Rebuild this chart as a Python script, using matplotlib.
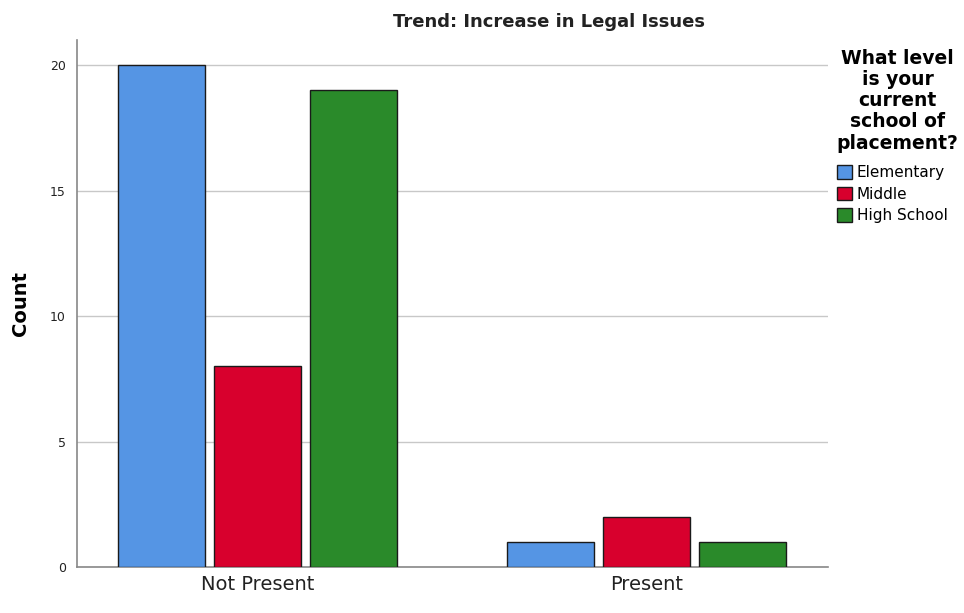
import matplotlib
matplotlib.use("Agg")
import matplotlib.pyplot as plt
from matplotlib.patches import Patch
import numpy as np

categories = ["Not Present", "Present"]
series_names = ["Elementary", "Middle", "High School"]
elementary = [20, 1]
middle = [8, 2]
high_school = [19, 1]
colors = ["#5595E4", "#D8002D", "#2A8A2A"]

plt.rcParams['font.family'] = ['DejaVu Sans']
fig = plt.figure(figsize=(9.64, 6.13), dpi=100)
ax = fig.add_axes([77/964, 1-567/613, (828-77)/964, (567-40)/613])

x = np.arange(len(categories))
width = 0.2237
step = 0.2468
for i, (vals, c) in enumerate(zip([elementary, middle, high_school], colors)):
    ax.bar(x + (i-1)*step, vals, width, color=c, edgecolor="#1a1a1a", linewidth=1.0, zorder=3)

ax.set_xlim(-0.464, 1.4666)
ax.set_ylim(0, 21)
ax.set_yticks([0, 5, 10, 15, 20])
ax.yaxis.grid(True, color="#c8c8c8", linewidth=1.0, zorder=0)
ax.set_axisbelow(True)
for s in ["top", "right"]:
    ax.spines[s].set_visible(False)
for s in ["left", "bottom"]:
    ax.spines[s].set_color("#888888")
    ax.spines[s].set_linewidth(1.2)
ax.tick_params(axis="y", length=0, labelsize=9, colors="#222222", pad=8)
ax.tick_params(axis="x", length=0, labelsize=14, colors="#222222", pad=6)
ax.set_xticks(x)
ax.set_xticklabels(categories)
ax.set_ylabel("Count", fontsize=14, fontweight="bold")
ax.yaxis.set_label_coords(-0.062, 0.5)

fig.text(549/964, 1-22/613, "Trend: Increase in Legal Issues", ha="center", va="center",
         fontsize=13, fontweight="bold", color="#222222")

handles = [Patch(facecolor=c, edgecolor="#1a1a1a", label=n) for c, n in zip(colors, series_names)]
leg = fig.legend(handles=handles, title="What level\nis your\ncurrent\nschool of\nplacement?",
                 loc="upper left", bbox_to_anchor=(826/964, 1-38/613), frameon=False,
                 fontsize=11, title_fontsize=13.5, handlelength=1.0, handleheight=1.0,
                 handletextpad=0.3, labelspacing=0.42, borderpad=0.2)
leg.get_title().set_fontweight("bold")
leg.get_title().set_multialignment("center")
leg.get_title().set_linespacing(1.15)
leg._legend_box.align = "left"
leg._legend_box.sep = 9

fig.savefig("out.png", dpi=100)
